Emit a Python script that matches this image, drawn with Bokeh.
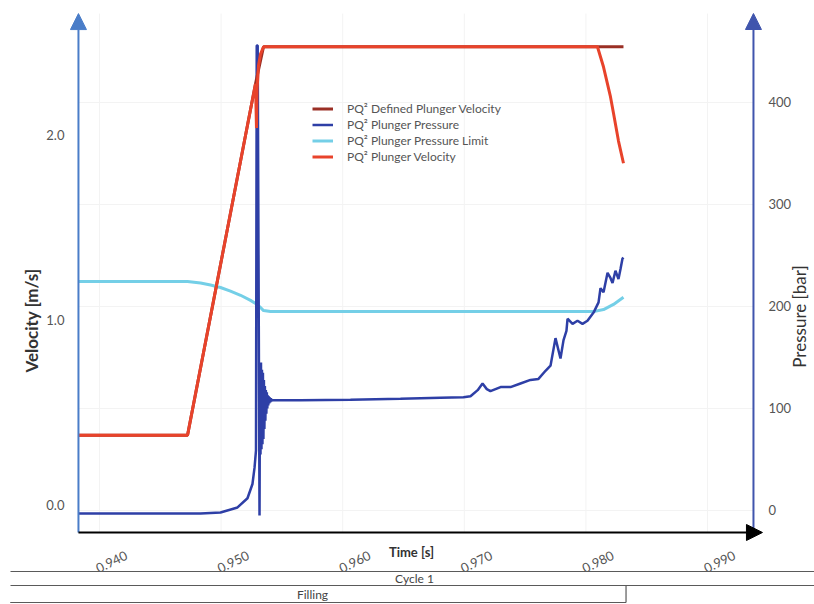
from bokeh.plotting import figure
from bokeh.models import (Range1d, LinearAxis, FixedTicker, PrintfTickFormatter, Arrow,
                          NormalHead, Legend, LegendItem)
from bokeh.core.properties import value
from bokeh.embed import file_html
from bokeh.resources import INLINE

FONT = "Lato"

# ---------------- data ----------------
vel_t = [0.93827, 0.94724, 0.95283, 0.95291, 0.95296, 0.95308, 0.95324, 0.95349,
         0.98095, 0.98145, 0.98202, 0.98227, 0.98268, 0.98309]
velocity = [0.38, 0.38, 2.28, 2.04, 2.25, 2.38, 2.44, 2.48,
            2.48, 2.37, 2.21, 2.12, 1.97, 1.85]

defv_t = [0.93827, 0.94724, 0.95283, 0.95349, 0.98309]
def_velocity = [0.38, 0.38, 2.28, 2.48, 2.48]

lim_t = [0.93827, 0.94724, 0.94831, 0.94913, 0.94995, 0.95077, 0.95160, 0.95242,
         0.95283, 0.95324, 0.95349, 0.95406, 0.98063, 0.98145, 0.98227, 0.98309]
pressure_limit = [224.5, 224.5, 223, 221, 218.6, 215, 211, 206,
                  203, 199, 196, 195, 195, 197, 202, 209]

p_t = [0.93827, 0.94831, 0.94995, 0.95135, 0.95217, 0.95258, 0.95275, 0.95287,
       0.95293, 0.95301, 0.95316,
       0.95320, 0.95324, 0.95328, 0.95332, 0.95336, 0.95340, 0.95344, 0.95348,
       0.95352, 0.95356, 0.95360, 0.95364, 0.95368, 0.95372, 0.95376, 0.95380,
       0.95384, 0.95388, 0.95392, 0.95396, 0.95400, 0.95404, 0.95408, 0.95412,
       0.95416, 0.95420,
       0.95450, 0.95489, 0.95653, 0.96064, 0.96475, 0.96640, 0.96804, 0.96993,
       0.97051, 0.97110, 0.97150, 0.97185, 0.97215, 0.97298, 0.97380, 0.97462,
       0.97544, 0.97610, 0.97668, 0.97709, 0.97750, 0.97791, 0.97816, 0.97840,
       0.97849, 0.97890, 0.97931, 0.97972, 0.98013, 0.98063, 0.98104, 0.98120,
       0.98145, 0.98178, 0.98202, 0.98219, 0.98243, 0.98268, 0.98285, 0.98301,
       0.98309]
pressure = [-3, -3, -2, 3, 12, 26, 42, 59,
            456, 456, -5,
            140, 55, 145, 60, 138, 65, 135, 70,
            128, 80, 122, 88, 118, 95, 116, 100,
            113, 103, 112, 105, 111, 106, 110, 107,
            109, 108,
            108, 108, 108, 108.5, 109.5, 110, 110.5, 111,
            112, 118, 124.5, 119, 117, 121, 121, 124.5,
            128, 129, 137, 142, 169, 149, 167, 176,
            188, 183, 186, 183, 186, 194, 204, 218,
            214, 233, 228, 223, 235, 227, 237, 247,
            248]

x_ticks = [0.940, 0.950, 0.960, 0.970, 0.980, 0.990]
vel_ticks = [0.0, 1.0, 2.0]
pres_ticks = [0, 100, 200, 300, 400]

legend_labels = ["PQ² Defined Plunger Velocity", "PQ² Plunger Pressure",
                 "PQ² Plunger Pressure Limit", "PQ² Plunger Velocity"]
phase_labels = ["Cycle 1", "Filling"]
filling_end = 0.98330
time_label = "Time [s]"
vel_label = "Velocity [m/s]"
pres_label = "Pressure [bar]"

# ---------------- styling / layout ----------------
C_VEL = "#e8432b"
C_DEF = "#9a2f25"
C_PRES = "#2e3fa6"
C_LIM = "#74cfe7"
C_LAX = "#4a7dc8"
C_RAX = "#4055ad"
TICK_C = "#555555"
GRID_C = "#f3f3f3"
ROW_C = "#5a5a5a"

W, H = 814, 604
# chart area (axes box) limits in data units
X0, X1, XTIP = 0.93827, 0.99378, 0.99452
V0, VTOP = -0.14595, 2.659
P0, PTOP = -21.57, 487.25
# whole-canvas ranges, same scales as the chart area
XC0, XC1 = 0.931859, 0.998799
VC0, VC1 = -0.53514, 2.72973
PC0, PC1 = -92.157, 500.0

p = figure(width=W, height=H, output_backend="svg", toolbar_location=None,
           x_range=Range1d(XC0, XC1), y_range=Range1d(VC0, VC1),
           min_border=0, min_border_left=0, min_border_right=0,
           min_border_top=0, min_border_bottom=0)
p.outline_line_color = None
p.background_fill_color = "white"
p.xgrid.visible = False
p.ygrid.visible = False
p.xaxis.visible = False
p.yaxis.visible = False
# "px": pixel offsets from the chart origin (left axis / time axis crossing)
p.extra_y_ranges = {"pressure": Range1d(PC0, PC1), "px": Range1d(-72, 532)}
p.extra_x_ranges = {"px": Range1d(-78, 736)}

# grid lines inside the chart box
p.segment(x0=x_ticks, y0=[V0] * len(x_ticks), x1=x_ticks, y1=[VTOP] * len(x_ticks),
          line_color=GRID_C, line_width=1)
p.segment(x0=[X0] * len(pres_ticks), y0=pres_ticks, x1=[X1] * len(pres_ticks), y1=pres_ticks,
          y_range_name="pressure", line_color=GRID_C, line_width=1)

# left axis (fixed at the chart's left edge)
la = LinearAxis(fixed_location=X0, ticker=FixedTicker(ticks=vel_ticks),
                formatter=PrintfTickFormatter(format="%.1f"))
# right axis
ra = LinearAxis(fixed_location=X1, y_range_name="pressure", ticker=FixedTicker(ticks=pres_ticks))
for ax, so in ((la, 8), (ra, 9)):
    ax.axis_line_color = None
    ax.major_tick_line_color = None
    ax.minor_tick_line_color = None
    ax.major_label_standoff = so
    ax.major_label_text_font = FONT
    ax.major_label_text_font_size = "13px"
    ax.major_label_text_color = TICK_C
p.add_layout(la, "left")
p.add_layout(ra, "right")

# data lines
r_lim = p.line(lim_t, pressure_limit, y_range_name="pressure", line_color=C_LIM, line_width=3)
r_pres = p.line(p_t, pressure, y_range_name="pressure", line_color=C_PRES, line_width=2.5)
r_def = p.line(defv_t, def_velocity, line_color=C_DEF, line_width=3)
r_vel = p.line(vel_t, velocity, line_color=C_VEL, line_width=3)

legend = Legend(items=[LegendItem(label=legend_labels[0], renderers=[r_def]),
                       LegendItem(label=legend_labels[1], renderers=[r_pres]),
                       LegendItem(label=legend_labels[2], renderers=[r_lim]),
                       LegendItem(label=legend_labels[3], renderers=[r_vel])],
                location=(312, 440), border_line_color=None, background_fill_alpha=0,
                glyph_width=21, glyph_height=13, label_height=13, label_standoff=14,
                spacing=1, padding=0, margin=0,
                label_text_font=FONT, label_text_font_size="12px", label_text_color="#555555")
p.add_layout(legend)

# axis lines with arrow heads
p.add_layout(Arrow(end=NormalHead(size=16, fill_color=C_LAX, line_color=C_LAX),
                   x_start=X0, y_start=V0, x_end=X0, y_end=VTOP,
                   line_color=C_LAX, line_width=2))
p.add_layout(Arrow(end=NormalHead(size=16, fill_color=C_RAX, line_color=C_RAX),
                   x_start=X1, y_start=P0, x_end=X1, y_end=PTOP, y_range_name="pressure",
                   line_color=C_RAX, line_width=2))
p.add_layout(Arrow(end=NormalHead(size=16, fill_color="black", line_color="black"),
                   x_start=X0, y_start=V0, x_end=XTIP, y_end=V0,
                   line_color="black", line_width=2))

# x tick labels (rotated), placed at the tick values
p.text(x=x_ticks, y=[-29] * len(x_ticks), y_range_name="px",
       text=[f"{v:.3f}" for v in x_ticks], angle=0.45, x_offset=12,
       text_align="center", text_baseline="middle",
       text_font=value(FONT), text_font_size="13px", text_color=TICK_C)

# axis titles
p.text(x=[333], y=[-19], x_range_name="px", y_range_name="px", text=[time_label],
       text_align="center", text_baseline="middle", text_font=value(FONT),
       text_font_size="13px", text_font_style="bold", text_color="#333333")
p.text(x=[-47], y=[212], x_range_name="px", y_range_name="px", text=[vel_label],
       angle=1.5708, text_align="center", text_baseline="middle", text_font=value(FONT),
       text_font_size="17px", text_font_style="bold", text_color="#333333")
p.text(x=[721], y=[216], x_range_name="px", y_range_name="px", text=[pres_label],
       angle=1.5708, text_align="center", text_baseline="middle", text_font=value(FONT),
       text_font_size="17px", text_color="#333333")

# phase rows below the chart
p.segment(x0=[-68, -68], y0=[-39, -53], x1=[736, 736], y1=[-39, -53],
          x_range_name="px", y_range_name="px", line_color=ROW_C, line_width=1.2)
p.segment(x0=[XC0 + 0.0008, filling_end], y0=[-70, -53], x1=[filling_end, filling_end],
          y1=[-70, -70], y_range_name="px", line_color=ROW_C, line_width=1.2)
p.text(x=[336, 234], y=[-46, -62], x_range_name="px", y_range_name="px", text=phase_labels,
       text_align="center", text_baseline="middle", text_font=value(FONT),
       text_font_size="12px", text_color="#444444")

open("out.html", "w").write(file_html(p, INLINE))
